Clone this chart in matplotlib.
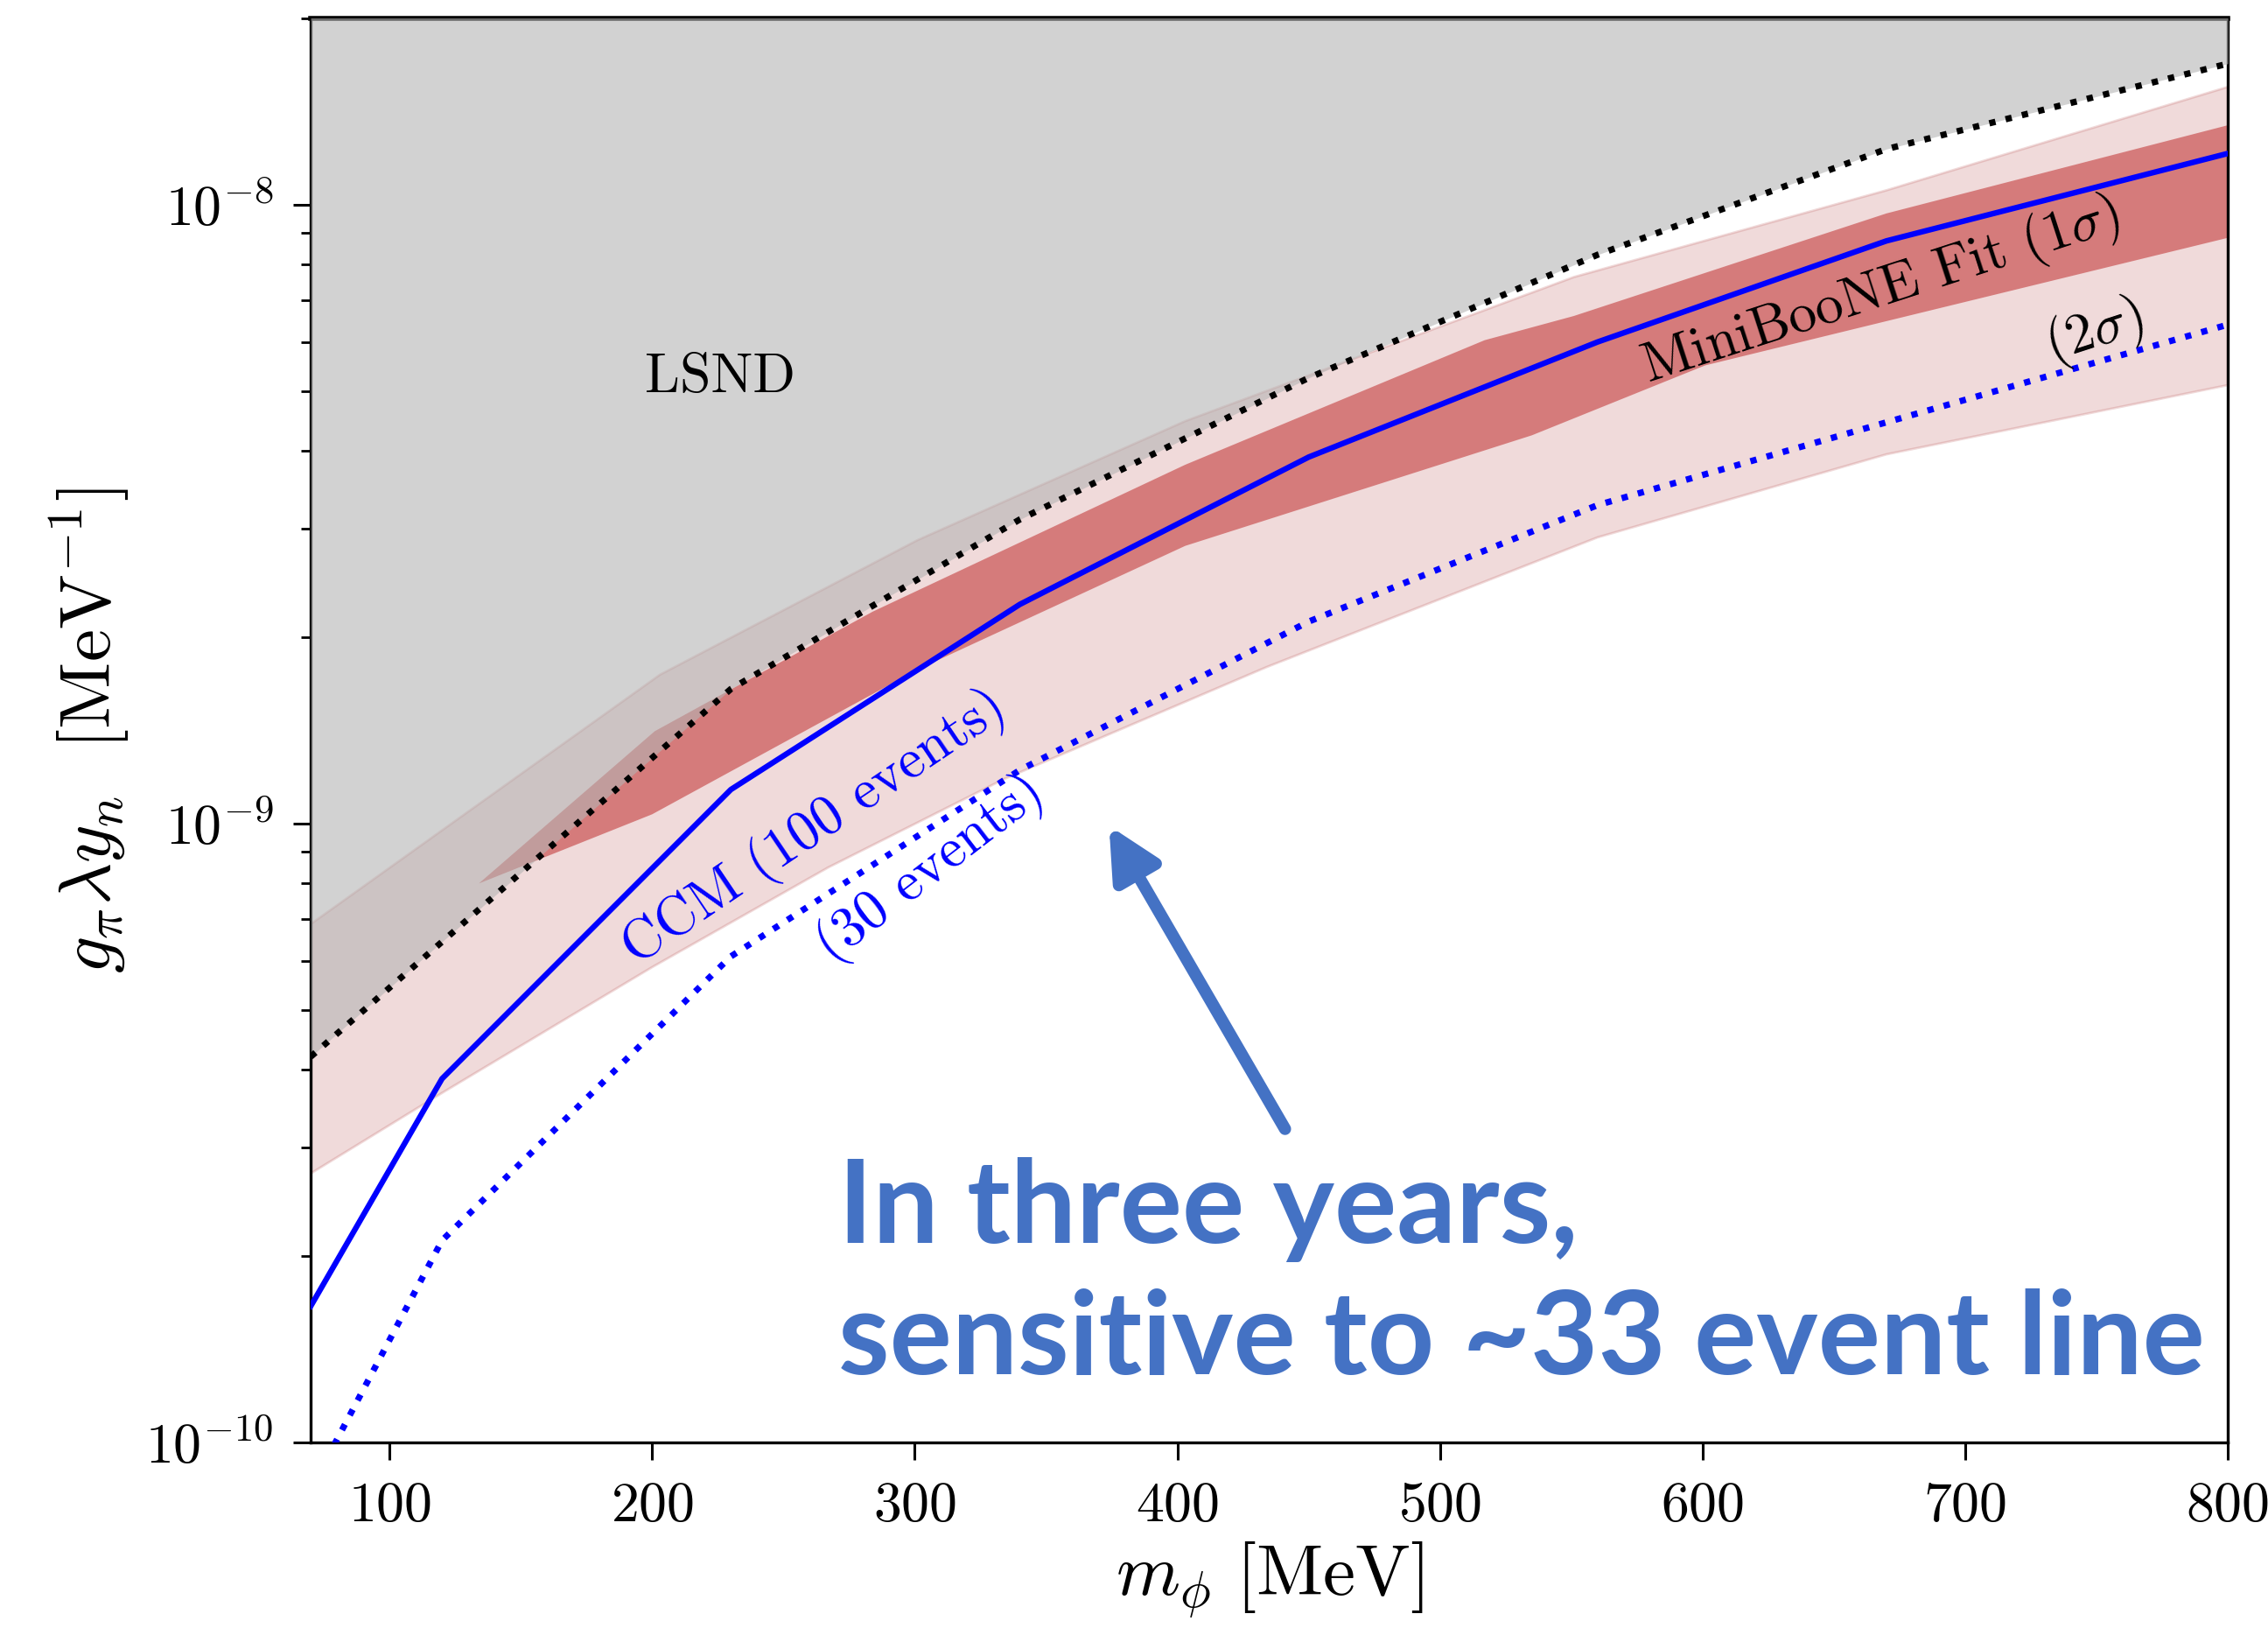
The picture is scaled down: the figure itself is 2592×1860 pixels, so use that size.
import numpy as np
import matplotlib
matplotlib.use('Agg')
import matplotlib.pyplot as plt

plt.rcParams['font.family'] = 'serif'
plt.rcParams['font.serif'] = ['cmr10']
plt.rcParams['mathtext.fontset'] = 'cm'
plt.rcParams['axes.formatter.use_mathtext'] = True
plt.rcParams['axes.unicode_minus'] = False

# LSND bound (black dotted, grey region above)
m_lsnd = np.array([70, 230, 340, 450, 560, 670, 800])
g_lsnd = np.array([4.2e-10, 1.65e-9, 3.1e-9, 5.25e-9, 8.3e-9, 1.23e-8, 1.69e-8])

# CCM sensitivity curves
m_ccm = np.array([70, 120, 230, 340, 450, 560, 670, 800])
g_ccm100 = np.array([1.66e-10, 3.87e-10, 1.135e-9, 2.26e-9, 3.91e-9, 6.0e-9, 8.74e-9, 1.21e-8])
g_ccm30 = np.array([8.4e-11, 2.12e-10, 6.1e-10, 1.22e-9, 2.12e-9, 3.27e-9, 4.45e-9, 6.4e-9])

# MiniBooNE fit, 2 sigma band edges
m_2s_hi = np.array([70, 203, 301, 403, 551, 670, 800])
g_2s_hi = np.array([6.88e-10, 1.74e-9, 2.87e-9, 4.47e-9, 7.64e-9, 1.055e-8, 1.55e-8])
m_2s_lo = np.array([70, 120, 200, 267, 334, 434, 560, 670, 800])
g_2s_lo = np.array([2.72e-10, 3.67e-10, 5.86e-10, 8.49e-10, 1.18e-9, 1.79e-9, 2.9e-9, 3.95e-9, 5.11e-9])

# MiniBooNE fit, 1 sigma band edges
m_1s_hi = np.array([134, 201, 284, 403, 517, 551, 670, 800])
g_1s_hi = np.array([8.0e-10, 1.41e-9, 2.2e-9, 3.8e-9, 6.04e-9, 6.61e-9, 9.68e-9, 1.344e-8])
m_1s_lo = np.array([134, 200, 301, 403, 535, 601, 800])
g_1s_lo = np.array([8.0e-10, 1.035e-9, 1.773e-9, 2.81e-9, 4.24e-9, 5.5e-9, 8.84e-9])

xticks = [100, 200, 300, 400, 500, 600, 700, 800]

fig = plt.figure(figsize=(12.96, 9.3), dpi=200)
ax = fig.add_axes([0.137, 0.114, 0.8453, 0.8747])
ax.set_yscale('log')

ax.fill(np.r_[m_2s_hi, m_2s_lo[::-1]], np.r_[g_2s_hi, g_2s_lo[::-1]],
        facecolor='#b44646', edgecolor='#b44646', alpha=0.2, lw=1, zorder=1)
ax.fill(np.r_[m_1s_hi, m_1s_lo[::-1]], np.r_[g_1s_hi, g_1s_lo[::-1]],
        facecolor='#cd5c5c', edgecolor='none', alpha=0.75, lw=0, zorder=2)
ax.fill_between(m_lsnd, g_lsnd, 1e-7, color='#b4b4b4', alpha=0.587, lw=0, zorder=3)

ax.plot(m_lsnd, g_lsnd, color='black', ls=':', lw=2.6, zorder=4)
ax.plot(m_ccm, g_ccm100, color='blue', lw=2.3, zorder=5)
ax.plot(m_ccm, g_ccm30, color='blue', ls=':', lw=2.6, zorder=5)

ax.set_xlim(70, 800)
ax.set_ylim(1e-10, 2e-8)
ax.set_xticks(xticks)

ax.text(226, 5.25e-9, 'LSND', fontsize=23, ha='center', va='center', zorder=6)
ax.text(668, 7.24e-9, r'MiniBooNE Fit $(1\sigma)$', fontsize=23, rotation=18,
        ha='center', va='center', rotation_mode='anchor', zorder=6)
ax.text(749, 6.23e-9, r'$(2\sigma)$', fontsize=23, rotation=18,
        ha='center', va='center', rotation_mode='anchor', zorder=6)
ax.text(262, 9.82e-10, 'CCM (100 events)', fontsize=23, color='blue', rotation=34,
        ha='center', va='center', rotation_mode='anchor', zorder=6)
ax.text(306, 8.44e-10, '(30 events)', fontsize=23, color='blue', rotation=37.5,
        ha='center', va='center', rotation_mode='anchor', zorder=6)

ax.annotate('', xy=(374, 9.92e-10), xytext=(441, 3.21e-10),
            arrowprops=dict(arrowstyle='-|>', color='#4472C4', lw=5.0,
                            mutation_scale=44, shrinkA=0, shrinkB=0), zorder=7)

fig.text(0.3696, 0.2366, 'In three years,', family='Lato', weight='bold',
         fontsize=48, color='#4472C4', va='baseline')
fig.text(0.3696, 0.1559, 'sensitive to ~33 event line', family='Lato', weight='bold',
         fontsize=48, color='#4472C4', va='baseline')

ax.set_xlabel(r'$m_\phi\ [\mathrm{MeV}]$', fontsize=30, labelpad=3)
ax.set_ylabel(r'$g_\pi\lambda y_n\ \ [\mathrm{MeV}^{-1}]$', fontsize=30, labelpad=6)

ax.tick_params(which='major', direction='out', length=7.2, width=1.1, labelsize=23, pad=8)
ax.tick_params(which='minor', direction='out', length=4, width=1.0)
ax.tick_params(axis='x', pad=9)
for s in ax.spines.values():
    s.set_linewidth(1.2)
ax.spines['top'].set_linewidth(2.0)

fig.savefig('out.png', dpi=200)
